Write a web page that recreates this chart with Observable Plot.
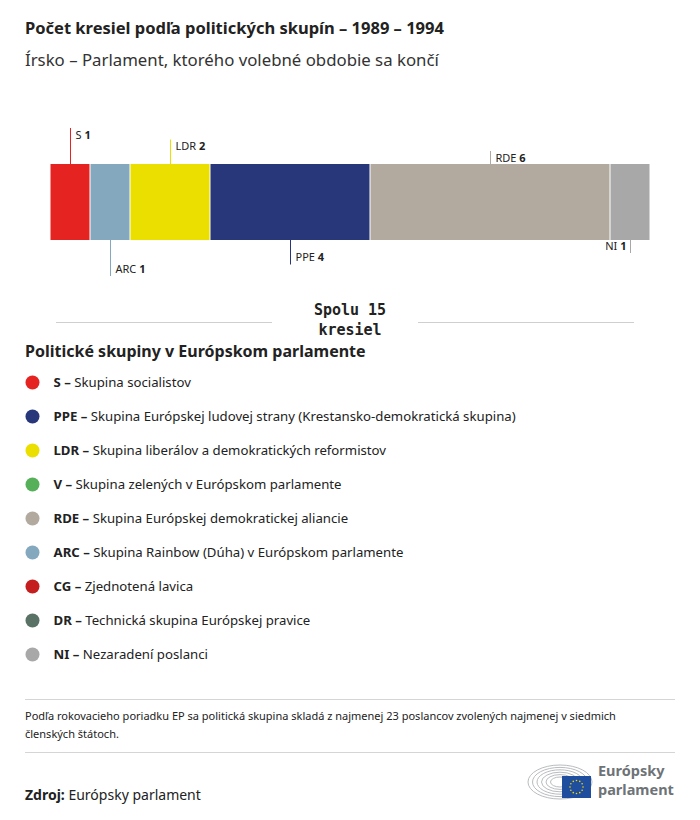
<!DOCTYPE html>
<html><head><meta charset="utf-8">
<script src="https://cdn.jsdelivr.net/npm/d3@7"></script>
<script src="https://cdn.jsdelivr.net/npm/@observablehq/plot@0.6"></script>
<style>
body{margin:0;background:#fff;font-family:"Noto Sans", sans-serif;color:#222;}
#page{position:relative;width:700px;height:820px;overflow:hidden;}
.abs{position:absolute;white-space:nowrap;}
#title{left:25px;top:16px;font-size:16.5px;font-weight:700;color:#222;}
#subtitle{left:25px;top:48px;font-size:16.8px;color:#333;}
#chart{left:0;top:100px;}
#total{left:0;top:300px;width:700px;height:44px;}
.hline{position:absolute;height:1px;background:#cfcfcf;top:22px;}
#totalText{position:absolute;left:0;width:700px;top:0;text-align:center;font-family:"DejaVu Sans Mono",monospace;font-weight:700;font-size:15px;line-height:20px;color:#222;}
#legendTitle{left:25px;top:340px;font-size:16px;font-weight:700;color:#222;}
#legend{left:0;top:365px;}
#rule1{left:25px;top:699px;width:650px;height:1px;background:#d5d5d5;}
#rule2{left:25px;top:752px;width:650px;height:1px;background:#d5d5d5;}
#note{left:25px;top:707px;font-size:11px;line-height:18px;color:#222;white-space:normal;width:625px;}
#source{left:25px;top:785px;font-size:14px;color:#222;}
#logo{left:526px;top:760px;}
</style></head><body><div id="page">
<div id="title" class="abs"></div>
<div id="subtitle" class="abs"></div>
<div id="chart" class="abs"></div>
<div id="total" class="abs"><div class="hline" style="left:56px;width:216px"></div><div class="hline" style="left:418px;width:216px"></div><div id="totalText"></div></div>
<div id="legendTitle" class="abs"></div>
<div id="legend" class="abs"></div>
<div id="rule1" class="abs"></div>
<div id="note" class="abs"></div>
<div id="rule2" class="abs"></div>
<div id="source" class="abs"></div>
<div id="logo" class="abs"></div>
</div>
<script>
// ---- data ----
const titleText = "Počet kresiel podľa politických skupín – 1989 – 1994";
const subtitleText = "Írsko – Parlament, ktorého volebné obdobie sa končí";
const groups = ["S", "ARC", "LDR", "PPE", "RDE", "NI"];
const seats = [1, 1, 2, 4, 6, 1];
const groupColors = ["#e52421", "#84a9bf", "#ebdf00", "#283779", "#b2aa9e", "#a8a8a8"];
const totalLabel = ["Spolu", "kresiel"];
const legendTitleText = "Politické skupiny v Európskom parlamente";
const legendCodes = ["S", "PPE", "LDR", "V", "RDE", "ARC", "CG", "DR", "NI"];
const legendNames = [
  "Skupina socialistov",
  "Skupina Európskej ludovej strany (Krestansko-demokratická skupina)",
  "Skupina liberálov a demokratických reformistov",
  "Skupina zelených v Európskom parlamente",
  "Skupina Európskej demokratickej aliancie",
  "Skupina Rainbow (Dúha) v Európskom parlamente",
  "Zjednotená lavica",
  "Technická skupina Európskej pravice",
  "Nezaradení poslanci"
];
const legendColors = ["#e52421", "#283779", "#ebdf00", "#56b05a", "#b2aa9e", "#84a9bf", "#c41e1e", "#5a7266", "#a8a8a8"];
const noteText = "Podľa rokovacieho poriadku EP sa politická skupina skladá z najmenej 23 poslancov zvolených najmenej v siedmich členských štátoch.";
const sourceLabel = "Zdroj:";
const sourceText = "Európsky parlament";

// ---- texts ----
document.getElementById("title").textContent = titleText;
document.getElementById("subtitle").textContent = subtitleText;
const total = d3.sum(seats);
document.getElementById("totalText").innerHTML = totalLabel[0] + " " + total + "<br>" + totalLabel[1];
document.getElementById("legendTitle").textContent = legendTitleText;
document.getElementById("note").textContent = noteText;
document.getElementById("source").innerHTML = "<b>" + sourceLabel + "</b> " + sourceText;

const FONT = "'Noto Sans', sans-serif";

// ---- bar chart ----
let acc = 0;
const tickLen = [13, 24.5, 36].map(v => v / 76); // in bar-height units
const rows = groups.map((g, i) => {
  const x1 = acc; acc += seats[i];
  const above = i % 2 === 0;
  const level = 2 - Math.floor(i / 2);
  const y1 = above ? 1 : 0;
  const y2 = above ? 1 + tickLen[level] : -tickLen[level];
  return {group: g, seats: seats[i], color: groupColors[i], x1, x2: acc, mid: (x1 + acc) / 2, above, y1, y2,
          end: i === groups.length - 1, label: g + "|" + seats[i]};
});

const labelMark = (filter, dx, dy, anchor) => Plot.text(rows.filter(filter), {
  x: "mid", y: "y2", text: "label", dx, dy, textAnchor: anchor, fill: "#222", fontSize: 11
});

const chart = Plot.plot({
  width: 700, height: 200,
  margin: 0,
  x: {domain: [0, total], range: [50, 650], axis: null},
  y: {domain: [0, 1], range: [140, 64], axis: null},
  color: {type: "identity"},
  style: {fontFamily: FONT, background: "transparent"},
  marks: [
    Plot.rect(rows, {x1: "x1", x2: "x2", y1: 0, y2: 1, fill: "color", insetLeft: 0.5, insetRight: 0.5}),
    Plot.ruleX(rows, {x: "mid", y1: "y1", y2: "y2", stroke: "color", strokeWidth: 1}),
    labelMark(d => d.above, 5, 6.5, "start"),
    labelMark(d => !d.above && !d.end, 5, -7.5, "start"),
    labelMark(d => !d.above && d.end, -4, -7.5, "end")
  ]
});
document.getElementById("chart").appendChild(chart);

function splitBold(svg, boldFirst) {
  d3.select(svg).selectAll("text").each(function () {
    const t = this.textContent;
    if (!t.includes("|")) return;
    const [a, b] = t.split("|");
    const sel = d3.select(this);
    sel.text(null);
    if (boldFirst) {
      sel.append("tspan").attr("font-weight", 700).text(a);
      sel.append("tspan").text(b);
    } else {
      sel.append("tspan").text(a + " ");
      sel.append("tspan").attr("font-weight", 700).text(b);
    }
  });
}
splitBold(chart, false);

// ---- legend ----
const legendRows = legendCodes.map((c, i) => ({code: c, name: legendNames[i], color: legendColors[i], label: c + " – |" + legendNames[i]}));
const legend = Plot.plot({
  width: 700, height: 300,
  margin: 0, marginLeft: 25,
  y: {type: "point", domain: legendCodes, range: [16.5, 288.5], padding: 0, axis: null},
  color: {type: "identity"},
  style: {fontFamily: FONT, background: "transparent"},
  marks: [
    Plot.dot(legendRows, {y: "code", frameAnchor: "left", dx: 7, r: 7, fill: "color", stroke: null}),
    Plot.text(legendRows, {y: "code", frameAnchor: "left", dx: 28, text: "label", textAnchor: "start", fontSize: 13.2, fill: "#222"})
  ]
});
splitBold(legend, true);
document.getElementById("legend").appendChild(legend);

// ---- logo ----
const logo = d3.select("#logo").append("svg").attr("width", 150).attr("height", 42);
const lg = logo.append("g");
for (let k = 0; k < 6; k++) {
  lg.append("ellipse").attr("cx", 34).attr("cy", 22).attr("rx", 32 - k * 4.5).attr("ry", 17 - k * 2.4)
    .attr("fill", "none").attr("stroke", "#b9bcbf").attr("stroke-width", 1);
}
lg.append("rect").attr("x", 36).attr("y", 16).attr("width", 29).attr("height", 22).attr("fill", "#1f4e9e");
d3.range(12).forEach(j => {
  const a = j / 12 * 2 * Math.PI;
  lg.append("circle").attr("cx", 50.5 + 6.5 * Math.cos(a)).attr("cy", 27 + 6.5 * Math.sin(a)).attr("r", 0.8).attr("fill", "#f5d800");
});
logo.append("text").attr("x", 72).attr("y", 16).attr("font-size", 14.5).attr("font-weight", 700).attr("fill", "#6e7377").attr("font-family", FONT).text("Európsky");
logo.append("text").attr("x", 72).attr("y", 35).attr("font-size", 14.5).attr("font-weight", 700).attr("fill", "#6e7377").attr("font-family", FONT).text("parlament");
</script>
</body></html>
